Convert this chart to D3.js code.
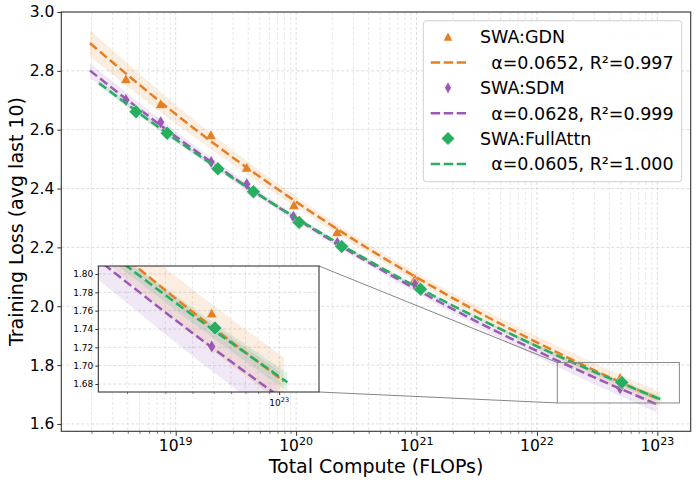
<!DOCTYPE html>
<html>
<head>
<meta charset="utf-8">
<script src="https://cdn.jsdelivr.net/npm/d3@7"></script>
<style>
body { margin: 0; background: #fff; }
text { font-family: "DejaVu Sans", sans-serif; }
</style>
</head>
<body>
<div id="svg"></div>
<script>

// scatter points (compute in FLOPs, loss)
const gdnX = [3.86e18, 7.5e18, 1.96e19, 3.89e19, 9.6e19, 2.19e20, 9.7e20, 4.9e22];
const gdnY = [2.772, 2.687, 2.582, 2.471, 2.344, 2.252, 2.093, 1.757];
const sdmX = [3.86e18, 7.5e18, 1.97e19, 3.89e19, 9.5e19, 2.2e20, 9.7e20, 4.9e22];
const sdmY = [2.701, 2.625, 2.490, 2.415, 2.304, 2.215, 2.075, 1.721];
const fullX = [4.68e18, 8.5e18, 2.24e19, 4.42e19, 1.06e20, 2.39e20, 1.08e21, 5.07e22];
const fullY = [2.661, 2.588, 2.467, 2.389, 2.285, 2.203, 2.058, 1.741];

// fitted curves
const gdnFitX = [1.94e18, 1e19, 3.16e19, 1e20, 3.16e20, 1e21, 3.16e21, 1e22, 3.16e22, 1.05e23];
const gdnFitY = [2.894, 2.653, 2.498, 2.355, 2.221, 2.098, 1.983, 1.877, 1.778, 1.683];
const gdnBand = [0.045, 0.032, 0.024, 0.018, 0.016, 0.016, 0.018, 0.021, 0.024, 0.026];
const sdmFitX = [1.94e18, 1e19, 3.16e19, 1e20, 3.16e20, 1e21, 3.16e21, 1e22, 3.16e22, 9.9e22];
const sdmFitY = [2.801, 2.577, 2.432, 2.298, 2.173, 2.057, 1.948, 1.848, 1.754, 1.667];
const sdmBand = [0.025, 0.018, 0.013, 0.010, 0.010, 0.012, 0.015, 0.020, 0.024, 0.028];
const fullFitX = [2.31e18, 1e19, 3.16e19, 1e20, 3.16e20, 1e21, 3.16e21, 1e22, 3.16e22, 1.09e23];
const fullFitY = [2.758, 2.567, 2.429, 2.300, 2.179, 2.066, 1.962, 1.864, 1.773, 1.682];
const fullBand = [0.010, 0.007, 0.005, 0.004, 0.004, 0.004, 0.005, 0.006, 0.008, 0.010];

const names = ["SWA:GDN", "SWA:SDM", "SWA:FullAttn"];
const fitLabels = ["\u00a0\u00a0α=0.0652, R²=0.997", "\u00a0\u00a0α=0.0628, R²=0.999", "\u00a0\u00a0α=0.0605, R²=1.000"];
const colors = ["#e67e22", "#9b59b6", "#27ae60"];
const yTicks = [1.6, 1.8, 2.0, 2.2, 2.4, 2.6, 2.8, 3.0];
const xTicks = [1e19, 1e20, 1e21, 1e22, 1e23];
const insetYTicks = [1.68, 1.70, 1.72, 1.74, 1.76, 1.78, 1.80];

let w = 698, h = 484;
let svg = d3.select("#svg").append("svg").attr("width", w).attr("height", h);

let x = d3.scaleLog().domain([1.122e18, 1.892e23]).range([61.3, 690.7]);
let y = d3.scaleLinear().domain([1.575, 3.0]).range([431.3, 12]);

// inset scales
let xi = d3.scaleLog().domain([1.476e22, 1.524e23]).range([98.3, 319]);
let yi = d3.scaleLinear().domain([1.6713, 1.8087]).range([392, 266]);

const series = [
  {x: gdnX, y: gdnY, fx: gdnFitX, fy: gdnFitY, band: gdnBand, shape: "tri"},
  {x: sdmX, y: sdmY, fx: sdmFitX, fy: sdmFitY, band: sdmBand, shape: "thin"},
  {x: fullX, y: fullY, fx: fullFitX, fy: fullFitY, band: fullBand, shape: "dia"}
];

function minorTicks(sc) {
  let out = [];
  let [a, b] = sc.domain();
  for (let e = 17; e <= 23; e++) {
    for (let k = 2; k <= 9; k++) {
      let v = k * Math.pow(10, e);
      if (v >= a && v <= b) out.push(v);
    }
  }
  return out;
}

function markerPath(shape, big) {
  if (shape == "tri") return big ? "M0,-5.3L5.3,4.4L-5.3,4.4Z" : "M0,-4.5L4.3,3.8L-4.3,3.8Z";
  if (shape == "thin") return big ? "M0,-6.5L4,0L0,6.5L-4,0Z" : "M0,-5.6L3,0L0,5.6L-3,0Z";
  return big ? "M0,-7L7,0L0,7L-7,0Z" : "M0,-6.5L6.5,0L0,6.5L-6.5,0Z";
}

// draws grid + data into a group with given scales
function drawPanel(g, sx, sy, xMinor, xMajor, yt, big) {
  let [x0, x1] = sx.range(), [y0, y1] = sy.range();
  let grid = g.append("g");
  grid.selectAll(".vmin").data(xMinor).enter().append("line")
    .attr("x1", d => sx(d)).attr("x2", d => sx(d)).attr("y1", y1).attr("y2", y0)
    .attr("stroke", "#dedede").attr("stroke-width", 0.7).attr("stroke-dasharray", "3,2");
  grid.selectAll(".vmaj").data(xMajor).enter().append("line")
    .attr("x1", d => sx(d)).attr("x2", d => sx(d)).attr("y1", y1).attr("y2", y0)
    .attr("stroke", "#d4d4d4").attr("stroke-width", 0.8).attr("stroke-dasharray", "3,2");
  grid.selectAll(".h").data(yt).enter().append("line")
    .attr("x1", x0).attr("x2", x1).attr("y1", d => sy(d)).attr("y2", d => sy(d))
    .attr("stroke", "#d4d4d4").attr("stroke-width", 0.8).attr("stroke-dasharray", "3,2");

  let area = d3.area().x(d => sx(d[0])).y0(d => sy(d[1] - d[2])).y1(d => sy(d[1] + d[2]))
    .curve(d3.curveMonotoneX);
  let line = d3.line().x(d => sx(d[0])).y(d => sy(d[1])).curve(d3.curveMonotoneX);

  series.forEach((s, i) => {
    let pts = s.fx.map((v, j) => [v, s.fy[j], s.band[j]]);
    g.append("path").attr("d", area(pts)).attr("fill", colors[i]).attr("fill-opacity", 0.14);
  });
  series.forEach((s, i) => {
    let pts = s.fx.map((v, j) => [v, s.fy[j]]);
    g.append("g").selectAll("path").data(s.x).enter().append("path")
      .attr("d", markerPath(s.shape, big))
      .attr("transform", (d, j) => "translate(" + sx(d) + "," + sy(s.y[j]) + ")")
      .attr("fill", colors[i]).attr("stroke", "#fff").attr("stroke-width", 0.5);
    g.append("path").attr("d", line(pts)).attr("fill", "none")
      .attr("stroke", colors[i]).attr("stroke-width", 2.5).attr("stroke-dasharray", "9,4");
  });
}

// ---------- main axes ----------
svg.append("clipPath").attr("id", "mainclip").append("rect")
  .attr("x", 61.3).attr("y", 12).attr("width", 629.4).attr("height", 419.3);
let main = svg.append("g").attr("clip-path", "url(#mainclip)");
drawPanel(main, x, y, minorTicks(x), xTicks, yTicks, true);

let yAxis = svg.append("g").attr("transform", "translate(61.3,0)")
  .call(d3.axisLeft(y).tickValues(yTicks).tickFormat(d3.format(".1f")).tickSize(4).tickPadding(3));
yAxis.select(".domain").remove();
yAxis.selectAll("text").attr("font-size", 15.5).attr("fill", "#000").style("font-family", "DejaVu Sans");
yAxis.selectAll("line").attr("stroke", "#333");

let xAxis = svg.append("g").attr("transform", "translate(0,431.3)")
  .call(d3.axisBottom(x).tickValues(xTicks).tickFormat("").tickSize(4.5));
xAxis.select(".domain").remove();
xAxis.selectAll("line").attr("stroke", "#333");
let xMinAxis = svg.append("g").attr("transform", "translate(0,431.3)")
  .call(d3.axisBottom(x).tickValues(minorTicks(x)).tickFormat("").tickSize(2.5));
xMinAxis.select(".domain").remove();
xMinAxis.selectAll("line").attr("stroke", "#333").attr("stroke-width", 0.7);

let xl = svg.append("g").selectAll("text").data(xTicks).enter().append("text")
  .attr("x", d => x(d)).attr("y", 451).attr("text-anchor", "middle").attr("font-size", 15.5);
xl.append("tspan").text("10");
xl.append("tspan").attr("dy", -6.5).attr("font-size", 11).text(d => Math.round(Math.log10(d)));

svg.append("rect").attr("x", 61.3).attr("y", 12).attr("width", 629.4).attr("height", 419.3)
  .attr("fill", "none").attr("stroke", "#333").attr("stroke-width", 1.1);

svg.append("text").attr("x", 376).attr("y", 473).attr("text-anchor", "middle")
  .attr("font-size", 19).text("Total Compute (FLOPs)");
svg.append("text").attr("transform", "translate(23,221.5) rotate(-90)").attr("text-anchor", "middle")
  .attr("font-size", 19).text("Training Loss (avg last 10)");

// ---------- zoom indicator ----------
let rx0 = x(xi.domain()[0]), rx1 = x(xi.domain()[1]);
let ry0 = y(yi.domain()[1]), ry1 = y(yi.domain()[0]);
svg.append("rect").attr("x", rx0).attr("y", ry0).attr("width", rx1 - rx0).attr("height", ry1 - ry0)
  .attr("fill", "none").attr("stroke", "#888").attr("stroke-width", 1);
svg.append("line").attr("x1", 319).attr("y1", 266).attr("x2", rx0).attr("y2", ry0)
  .attr("stroke", "#777").attr("stroke-width", 0.9);
svg.append("line").attr("x1", 319).attr("y1", 392).attr("x2", rx0).attr("y2", ry1)
  .attr("stroke", "#777").attr("stroke-width", 0.9);

// ---------- inset ----------
svg.append("rect").attr("x", 98.3).attr("y", 266).attr("width", 220.7).attr("height", 126).attr("fill", "#fff");
svg.append("clipPath").attr("id", "insclip").append("rect")
  .attr("x", 98.3).attr("y", 266).attr("width", 220.7).attr("height", 126);
let ins = svg.append("g").attr("clip-path", "url(#insclip)");
drawPanel(ins, xi, yi, minorTicks(xi), [1e23], insetYTicks, true);
svg.append("rect").attr("x", 98.3).attr("y", 266).attr("width", 220.7).attr("height", 126)
  .attr("fill", "none").attr("stroke", "#222").attr("stroke-width", 1);

let iy = svg.append("g").attr("transform", "translate(98.3,0)")
  .call(d3.axisLeft(yi).tickValues(insetYTicks).tickFormat(d3.format(".2f")).tickSize(3).tickPadding(2));
iy.select(".domain").remove();
iy.selectAll("text").attr("font-size", 9).attr("fill", "#000").style("font-family", "DejaVu Sans");
iy.selectAll("line").attr("stroke", "#333");
let ix = svg.append("g").attr("transform", "translate(0,392)")
  .call(d3.axisBottom(xi).tickValues([1e23]).tickFormat("").tickSize(3));
ix.select(".domain").remove();
ix.selectAll("line").attr("stroke", "#333");
let ixm = svg.append("g").attr("transform", "translate(0,392)")
  .call(d3.axisBottom(xi).tickValues(minorTicks(xi)).tickFormat("").tickSize(2));
ixm.select(".domain").remove();
ixm.selectAll("line").attr("stroke", "#333").attr("stroke-width", 0.6);
let il = svg.append("text").attr("x", xi(1e23)).attr("y", 406).attr("text-anchor", "middle").attr("font-size", 9);
il.append("tspan").text("10");
il.append("tspan").attr("dy", -4).attr("font-size", 6.5).text("23");

// ---------- legend ----------
let leg = svg.append("g");
leg.append("rect").attr("x", 423.3).attr("y", 20.7).attr("width", 258.4).attr("height", 161)
  .attr("rx", 3).attr("fill", "#fff").attr("fill-opacity", 0.85).attr("stroke", "#d0d0d0");
names.forEach((n, i) => {
  let ya = 37 + i * 50.8, yb = ya + 25.4;
  leg.append("path").attr("d", markerPath(series[i].shape, false))
    .attr("transform", "translate(448," + ya + ")").attr("fill", colors[i]);
  leg.append("text").attr("x", 480).attr("y", ya + 6.3).attr("font-size", 17.5).text(n);
  leg.append("line").attr("x1", 430.7).attr("x2", 466).attr("y1", yb).attr("y2", yb)
    .attr("stroke", colors[i]).attr("stroke-width", 2.5).attr("stroke-dasharray", "9.5,3.5");
  leg.append("text").attr("x", 480).attr("y", yb + 6.3).attr("font-size", 17.5).text(fitLabels[i]);
});

</script>
</body>
</html>
